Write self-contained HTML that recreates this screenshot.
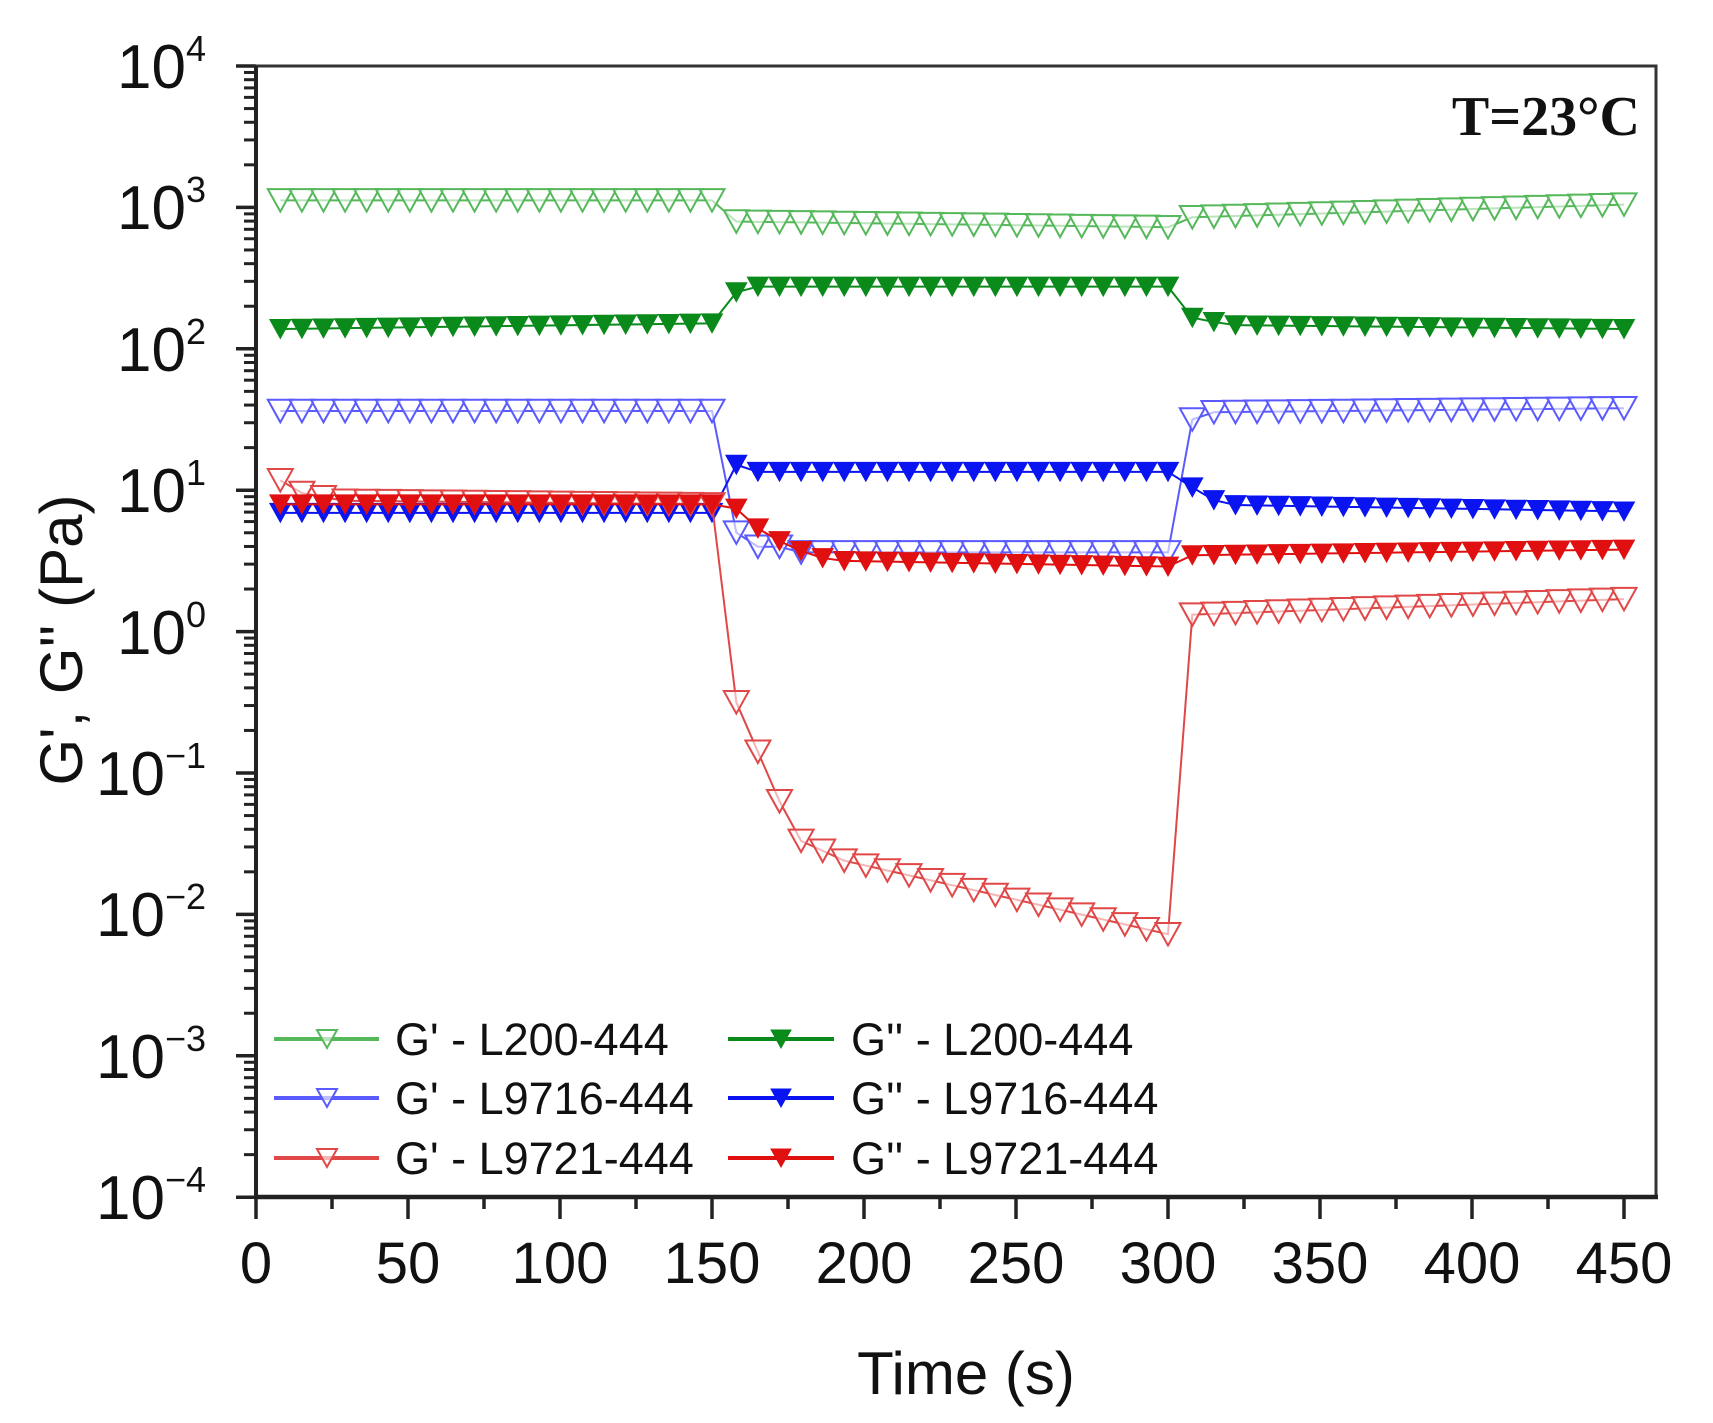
<!DOCTYPE html>
<html><head><meta charset="utf-8"><style>
html,body{margin:0;padding:0;background:#fff;}
svg{display:block;}
text{font-family:"Liberation Sans",sans-serif;fill:#111;}
</style></head><body>
<svg id="s" width="1713" height="1423" viewBox="0 0 1713 1423" xmlns="http://www.w3.org/2000/svg">
<rect x="0" y="0" width="1713" height="1423" fill="#fff"/>
<g id="ticks" stroke="#222" stroke-width="3.5"></g>
<rect x="256" y="66" width="1400" height="1131" fill="none" stroke="#333" stroke-width="3"/>
<line x1="256" y1="66" x2="256" y2="1198" stroke="#222" stroke-width="4"/>
<line x1="254" y1="1197" x2="1658" y2="1197" stroke="#222" stroke-width="4.5"/>
<g id="data"></g>
<!-- y labels -->
<g font-size="62" text-anchor="end">
<text x="206" y="88">10<tspan dy="-27" font-size="36">4</tspan></text>
<text x="206" y="229">10<tspan dy="-27" font-size="36">3</tspan></text>
<text x="206" y="371">10<tspan dy="-27" font-size="36">2</tspan></text>
<text x="206" y="512">10<tspan dy="-27" font-size="36">1</tspan></text>
<text x="206" y="654">10<tspan dy="-27" font-size="36">0</tspan></text>
<text x="206" y="795">10<tspan dy="-27" font-size="36">−1</tspan></text>
<text x="206" y="936">10<tspan dy="-27" font-size="36">−2</tspan></text>
<text x="206" y="1078">10<tspan dy="-27" font-size="36">−3</tspan></text>
<text x="206" y="1219">10<tspan dy="-27" font-size="36">−4</tspan></text>
</g>
<g font-size="58" text-anchor="middle">
<text x="256" y="1283">0</text><text x="408" y="1283">50</text><text x="560" y="1283">100</text>
<text x="712" y="1283">150</text><text x="864" y="1283">200</text><text x="1016" y="1283">250</text>
<text x="1168" y="1283">300</text><text x="1320" y="1283">350</text><text x="1472" y="1283">400</text>
<text x="1624" y="1283">450</text>
<text x="966" y="1394" font-size="60">Time (s)</text>
<text transform="translate(82,640) rotate(-90)" font-size="60">G', G'' (Pa)</text>
</g>
<text x="1640" y="135" text-anchor="end" font-size="56" font-weight="bold" style="font-family:'Liberation Serif',serif">T=23°C</text>
<g font-size="45" fill="#222">
<text x="395" y="1055">G' - L200-444</text>
<text x="851" y="1055">G'' - L200-444</text>
<text x="395" y="1114">G' - L9716-444</text>
<text x="851" y="1114">G'' - L9716-444</text>
<text x="395" y="1174">G' - L9721-444</text>
<text x="851" y="1174">G'' - L9721-444</text>
</g>
<g id="leg"></g>
</svg>
<script>
var NS="http://www.w3.org/2000/svg";
function el(p,n,a){var e=document.createElementNS(NS,n);for(var k in a)e.setAttribute(k,a[k]);p.appendChild(e);return e;}
var X=function(t){return 256+t*3.04;};
var Y=function(v){return 66+(4-v)*141.4;};
var tk=document.getElementById('ticks');
for(var d=-4;d<=4;d++){var y=Y(d);el(tk,'line',{x1:236,y1:y,x2:256,y2:y});
 if(d<4)for(var m=2;m<=9;m++){var yy=Y(d+Math.log10(m));el(tk,'line',{x1:244,y1:yy,x2:256,y2:yy,'stroke-width':3});}}
for(var t=0;t<=450;t+=25){var x=X(t);el(tk,'line',{x1:x,y1:1197,x2:x,y2:(t%50==0)?1219:1209});}
function lin(a,b,n,i){return a+(b-a)*i/(n-1);}
var N=21;
function gen(f){var pts=[];for(var s=0;s<3;s++)for(var i=0;i<N;i++){var t=s*150+8+7.1*i;pts.push([t,f(s,i)]);}return pts;}
var series=[
 {c:'#55b85a',fill:false,f:function(s,i){return s==0?3.05:s==1?(2.9-0.04*i/20):lin(2.93,3.02,N,i);}},
 {c:'#0a8a1a',fill:true,f:function(s,i){return s==0?lin(2.14,2.18,N,i):s==1?(i==0?2.4:2.44):(i==0?2.22:i==1?2.19:lin(2.17,2.14,N,i));}},
 {c:'#5a5aff',fill:false,f:function(s,i){return s==0?1.56:s==1?(i==0?0.7:i<3?0.6:0.56):(i==0?1.5:lin(1.55,1.58,N,i));}},
 {c:'#0a14f0',fill:true,f:function(s,i){return s==0?0.84:s==1?(i==0?1.18:1.13):(i==0?1.02:i==1?0.93:lin(0.9,0.85,N,i));}},
 {c:'#e04848',fill:false,f:function(s,i){
   if(s==0)return i==0?1.07:i==1?0.98:i==2?0.95:lin(0.93,0.9,N,i);
   if(s==1){var a=[-0.5,-0.85,-1.2,-1.48,-1.55];if(i<5)return a[i];return lin(-1.62,-2.14,N-5,i-5);}
   return lin(0.12,0.23,N,i);}},
 {c:'#e01010',fill:true,f:function(s,i){
   if(s==0)return 0.9;
   if(s==1){var a=[0.87,0.73,0.64,0.57,0.52];if(i<5)return a[i];return lin(0.5,0.46,N-5,i-5);}
   return lin(0.54,0.58,N,i);}}
];
var g=document.getElementById('data');
function tri(p,x,y,c,fill,sz){var h=sz*0.9;el(p,'path',{d:'M'+(x-sz/2)+','+(y-h/2)+' L'+(x+sz/2)+','+(y-h/2)+' L'+x+','+(y+h/2)+' Z',fill:fill?c:'#fff','fill-opacity':fill?1:0.6,stroke:c,'stroke-width':fill?1:2});}
series.forEach(function(S){var pts=gen(S.f);var d='';pts.forEach(function(p,k){d+=(k?'L':'M')+X(p[0])+','+Y(p[1]);});
 el(g,'path',{d:d,fill:'none',stroke:S.c,'stroke-width':2});
 pts.forEach(function(p){tri(g,X(p[0]),Y(p[1]),S.c,S.fill,S.fill?21:25);});});
var lg=document.getElementById('leg');
var rows=[1039,1098,1158];
for(var r=0;r<3;r++){[[274,379,327,series[2*r]],[728,834,781,series[2*r+1]]].forEach(function(L){
 el(lg,'line',{x1:L[0],y1:rows[r],x2:L[1],y2:rows[r],stroke:L[3].c,'stroke-width':4});
 tri(lg,L[2],rows[r],L[3].c,L[3].fill,20);});}
</script>
</body></html>
